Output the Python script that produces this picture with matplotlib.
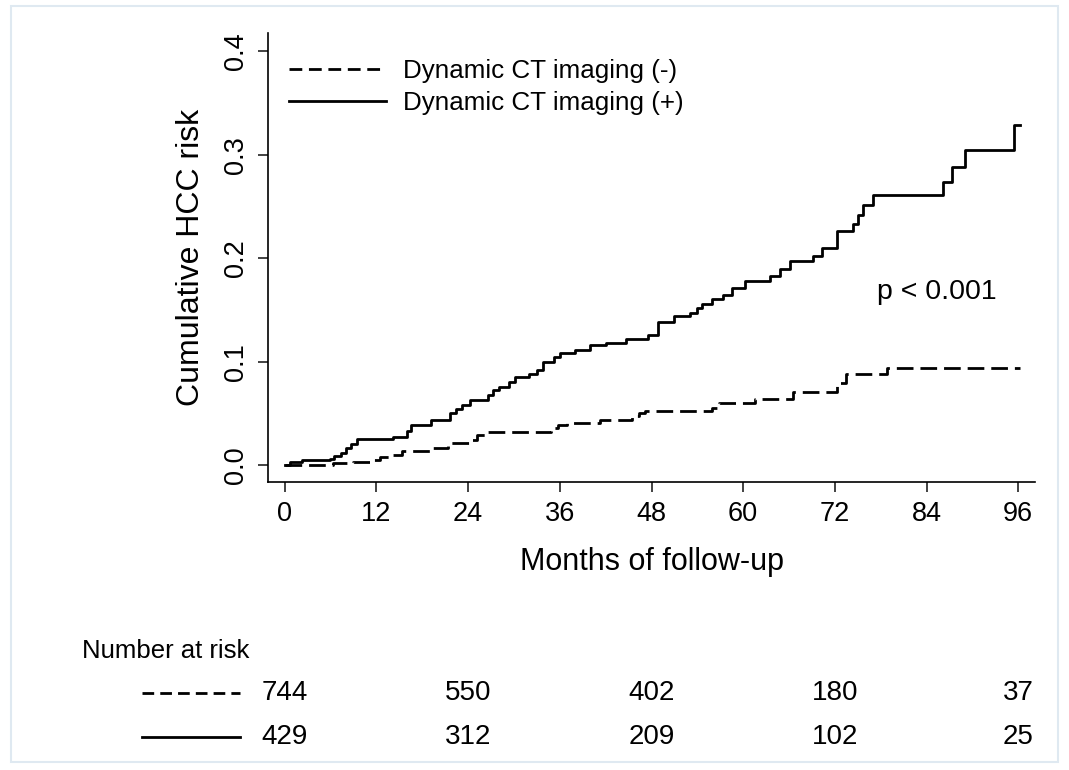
import matplotlib.pyplot as plt
from matplotlib.patches import Rectangle

plt.rcParams['font.family'] = ['Liberation Sans', 'DejaVu Sans']

# Step-curve data (months, cumulative risk)
t_neg = [0, 6.3, 8.9, 11.5, 12.4, 13.7, 15.3, 19.0, 21.3, 24.2, 25.1, 26.2,
         34.9, 35.8, 37.0, 41.2, 45.4, 46.3, 47.1, 55.9, 56.8, 61.5, 66.5,
         72.3, 73.5, 78.8, 96.2]
r_neg = [0, 0.002, 0.003, 0.005, 0.008, 0.010, 0.014, 0.016, 0.021, 0.024, 0.029, 0.032,
         0.036, 0.039, 0.041, 0.044, 0.047, 0.050, 0.052, 0.055, 0.060, 0.064, 0.071,
         0.079, 0.088, 0.094, 0.094]

t_pos = [0, 0.7, 2.2, 5.9, 6.5, 7.3, 8.0, 8.7, 9.5, 14.1, 16.0, 16.5, 19.2, 21.6,
         22.4, 23.2, 24.2, 26.6, 27.2, 28.1, 29.4, 30.1, 32.0, 33.0, 33.8, 35.3,
         36.0, 38.0, 40.0, 42.1, 44.6, 47.5, 48.8, 51.0, 53.0, 53.9, 54.6, 55.9,
         57.3, 58.6, 60.2, 63.5, 64.8, 66.1, 69.1, 70.3, 72.3, 74.4, 75.0, 75.7,
         77.0, 86.1, 87.4, 89.1, 95.5, 96.2]
r_pos = [0, 0.003, 0.005, 0.006, 0.009, 0.012, 0.016, 0.020, 0.025, 0.027, 0.033, 0.039,
         0.044, 0.050, 0.054, 0.058, 0.063, 0.068, 0.073, 0.075, 0.080, 0.085, 0.088,
         0.092, 0.100, 0.104, 0.108, 0.111, 0.116, 0.118, 0.122, 0.126, 0.138, 0.144,
         0.147, 0.152, 0.156, 0.160, 0.164, 0.171, 0.178, 0.183, 0.189, 0.197, 0.202,
         0.210, 0.226, 0.233, 0.242, 0.251, 0.261, 0.274, 0.288, 0.304, 0.329, 0.329]

risk_times = [0, 24, 48, 72, 96]
risk_neg = [744, 550, 402, 180, 37]
risk_pos = [429, 312, 209, 102, 25]

labels = ['Dynamic CT imaging (-)', 'Dynamic CT imaging (+)']

fig = plt.figure(figsize=(10.69, 7.7), dpi=100)
ax = fig.add_axes([0.2507, 0.374, 0.7175, 0.583])

ax.step(t_neg, r_neg, where='post', color='black', lw=2.0, dashes=(6, 2.5), label=labels[0])
ax.step(t_pos, r_pos, where='post', color='black', lw=2.0, label=labels[1])

ax.set_xlim(-2.2, 98.2)
ax.set_ylim(-0.0164, 0.4174)
ax.set_xticks(range(0, 97, 12))
ax.set_yticks([0, 0.1, 0.2, 0.3, 0.4])
ax.set_yticklabels(['0.0', '0.1', '0.2', '0.3', '0.4'], rotation=90, va='center')
ax.tick_params(labelsize=19.5, length=7, width=1.2, color='#222222')
ax.tick_params(axis='x', pad=7)
ax.tick_params(axis='y', pad=7)
for s in ['top', 'right']:
    ax.spines[s].set_visible(False)
for s in ['left', 'bottom']:
    ax.spines[s].set_linewidth(1.2)

ax.set_xlabel('Months of follow-up', fontsize=22, labelpad=14)
ax.set_ylabel('Cumulative HCC risk', fontsize=23, labelpad=12)

leg = ax.legend(loc='upper left', bbox_to_anchor=(-0.003, 0.995), frameon=False, fontsize=18.7,
                handlelength=3.75, handletextpad=0.65, labelspacing=0.32)
leg.get_lines()[0].set_dashes((4.6, 2.4))

ax.text(77.5, 0.167, 'p < 0.001', fontsize=20.5, va='center')

# Number at risk table
fig.text(82 / 1069, 1 - 651 / 770, 'Number at risk', fontsize=18.5, va='center')
row_y = [1 - 693 / 770, 1 - 737 / 770]
styles = [dict(dashes=(4.2, 2.2)), dict(ls='-')]
for yy, vals, st in zip(row_y, [risk_neg, risk_pos], styles):
    fig.add_artist(plt.Line2D([142 / 1069, 240 / 1069], [yy, yy], color='black',
                              lw=2.0, transform=fig.transFigure, **st))
    for t, v in zip(risk_times, vals):
        xf = ax.transData.transform((t, 0))[0] / fig.bbox.width
        fig.text(xf, yy, str(v), ha='center', va='center', fontsize=20)

fig.add_artist(Rectangle((11 / 1069, 8 / 770), 1047 / 1069, 756 / 770, transform=fig.transFigure,
                         fill=False, edgecolor='#dfe9f1', lw=1.5))

fig.savefig('out.png', dpi=100)
